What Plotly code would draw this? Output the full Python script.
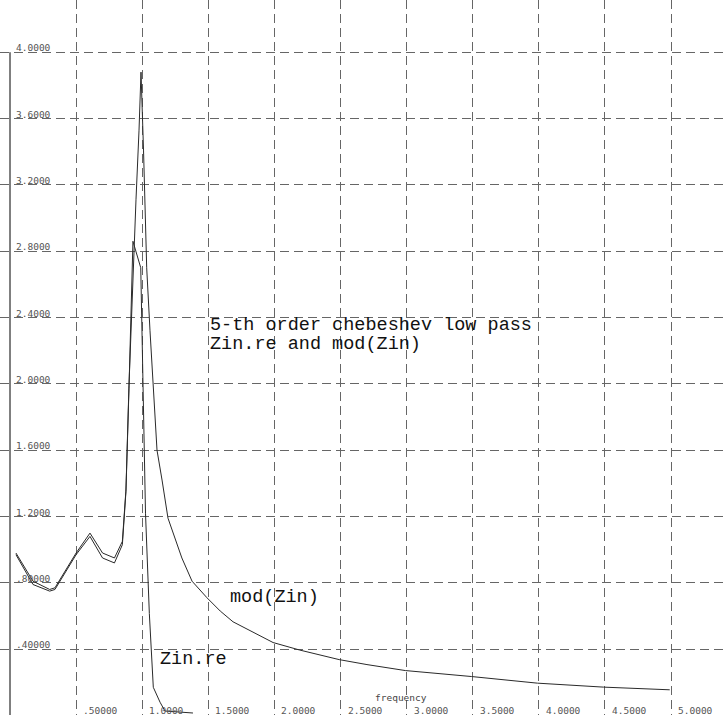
import plotly.graph_objects as go

# ---- data ----
freq_mod = [0.045, 0.174, 0.30, 0.34, 0.50, 0.605, 0.70, 0.79, 0.85, 0.877, 0.90, 0.935,
            0.953, 0.976, 0.991, 1.01, 1.034, 1.059, 1.082, 1.112, 1.15, 1.195, 1.30,
            1.377, 1.49, 1.59, 1.687, 1.99, 2.19, 2.49, 2.70, 2.99, 3.49, 3.99, 4.49, 4.99]
mod_zin = [0.98, 0.81, 0.76, 0.77, 0.98, 1.10, 0.98, 0.95, 1.05, 1.36, 1.99, 2.80,
           3.11, 3.53, 3.88, 3.41, 2.70, 2.32, 2.00, 1.60, 1.42, 1.19, 0.95,
           0.81, 0.71, 0.63, 0.565, 0.44, 0.395, 0.337, 0.307, 0.271, 0.235, 0.195, 0.171, 0.155]

freq_re = [0.045, 0.174, 0.30, 0.34, 0.50, 0.605, 0.70, 0.79, 0.85, 0.877, 0.90, 0.93,
           0.989, 1.006, 1.025, 1.054, 1.084, 1.135, 1.172, 1.384]
zin_re = [0.97, 0.79, 0.75, 0.76, 0.97, 1.08, 0.95, 0.92, 1.03, 1.35, 1.97, 2.86,
          2.70, 1.99, 1.22, 0.615, 0.17, 0.08, 0.027, 0.015]

x_ticks = [0.5, 1.0, 1.5, 2.0, 2.5, 3.0, 3.5, 4.0, 4.5, 5.0]
x_tick_labels = [".50000", "1.0000", "1.5000", "2.0000", "2.5000", "3.0000",
                 "3.5000", "4.0000", "4.5000", "5.0000"]
y_ticks = [0.4, 0.8, 1.2, 1.6, 2.0, 2.4, 2.8, 3.2, 3.6, 4.0]
y_tick_labels = [".40000", ".80000", "1.2000", "1.6000", "2.0000", "2.4000",
                 "2.8000", "3.2000", "3.6000", "4.0000"]

title_lines = ["5-th order chebeshev low pass", "Zin.re and mod(Zin)"]
x_title = "frequency"

fig = go.Figure()
fig.add_trace(go.Scatter(x=freq_mod, y=mod_zin, mode="lines", name="mod(Zin)",
                         line=dict(color="#2a2a2a", width=1)))
fig.add_trace(go.Scatter(x=freq_re, y=zin_re, mode="lines", name="Zin.re",
                         line=dict(color="#2a2a2a", width=1)))

grid = dict(showgrid=True, gridcolor="#666666", gridwidth=1, griddash="9px,5px",
            zeroline=False, showticklabels=False, ticks="", showline=False)

fig.update_layout(
    width=723, height=715,
    margin=dict(l=0, r=0, t=0, b=0),
    paper_bgcolor="white", plot_bgcolor="white",
    showlegend=False,
    xaxis=dict(range=[-0.0756, 5.393], tickvals=x_ticks, **grid),
    yaxis=dict(range=[0.003, 4.315], tickvals=y_ticks, **grid),
)

# y axis line from 0 to 4.0
fig.add_shape(type="line", xref="x", yref="y", x0=0, x1=0, y0=0, y1=y_ticks[-1],
              line=dict(color="black", width=1))

tick_font = dict(family="DejaVu Sans Mono", size=9.5, color="#555555")
for v, t in zip(y_ticks, y_tick_labels):
    fig.add_annotation(x=0, y=v, xref="x", yref="y", text=t, showarrow=False,
                       xanchor="left", yanchor="bottom", xshift=4, yshift=-3,
                       font=tick_font)
for v, t in zip(x_ticks, x_tick_labels):
    fig.add_annotation(x=v, y=0, xref="x", yref="paper", text=t, showarrow=False,
                       xanchor="left", yanchor="bottom", xshift=5, yshift=-3,
                       font=tick_font)

fig.add_annotation(x=2.958, y=0.106, xref="x", yref="y", text=x_title, showarrow=False,
                   xanchor="center", yanchor="middle",
                   font=dict(family="DejaVu Sans Mono", size=9.5, color="#444444"))

txt_font = dict(family="Liberation Mono", size=18.5, color="#111111")
fig.add_annotation(x=1.5, y=2.355, xref="x", yref="y", text=title_lines[0], showarrow=False,
                   xanchor="left", yanchor="middle", xshift=0, font=txt_font)
fig.add_annotation(x=1.5, y=2.235, xref="x", yref="y", text=title_lines[1], showarrow=False,
                   xanchor="left", yanchor="middle", xshift=0, font=txt_font)
fig.add_annotation(x=1.649, y=0.709, xref="x", yref="y", text="mod(Zin)", showarrow=False,
                   xanchor="left", yanchor="middle", font=txt_font)
fig.add_annotation(x=1.12, y=0.335, xref="x", yref="y", text="Zin.re", showarrow=False,
                   xanchor="left", yanchor="middle", font=txt_font)

fig.write_html("out.html")
